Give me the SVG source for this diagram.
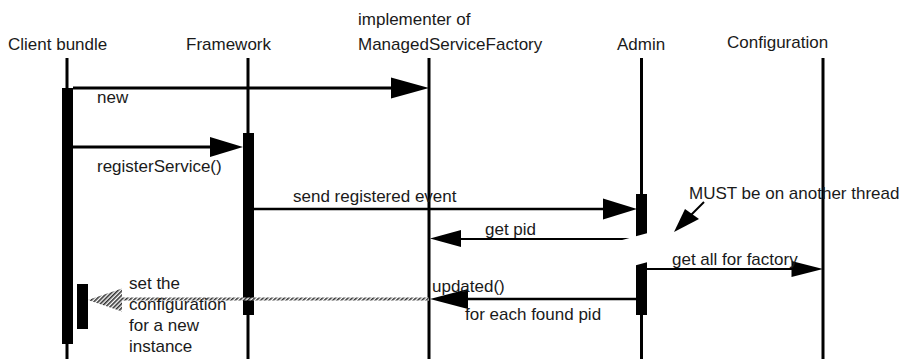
<svg xmlns="http://www.w3.org/2000/svg" width="908" height="359" viewBox="0 0 908 359">
<style>
text { font-family: "Liberation Sans", Arial, sans-serif; font-size: 17px; fill: #1a1a1a; }
.life { stroke: #000; stroke-width: 3; fill: none; }
.act { fill: #000; }
.msg { stroke: #000; fill: none; }
.head { fill: #000; }
</style>
<defs>
<pattern id="hatch" width="3" height="3" patternUnits="userSpaceOnUse" patternTransform="rotate(45)">
<rect width="3" height="3" fill="#fff"/>
<rect width="1.6" height="3" fill="#333"/>
</pattern>
</defs>
<g id="client-bundle">
<text x="8" y="50">Client bundle</text>
<line class="life" x1="67" y1="58" x2="67" y2="359"/>
<rect class="act" x="62" y="88" width="11" height="256"/>
<rect class="act" x="77" y="284" width="11" height="45"/>
</g>
<g id="framework">
<text x="186" y="50">Framework</text>
<line class="life" x1="248" y1="58" x2="248" y2="359"/>
<rect class="act" x="243" y="133" width="11" height="182"/>
</g>
<g id="managed-service-factory">
<text x="358" y="25">implementer of</text>
<text x="358" y="50">ManagedServiceFactory</text>
<line class="life" x1="429" y1="58" x2="429" y2="359"/>
</g>
<g id="admin">
<text x="617" y="50">Admin</text>
<line class="life" x1="641.5" y1="58" x2="641.5" y2="359"/>
</g>
<g id="configuration">
<text x="727" y="48">Configuration</text>
<line class="life" x1="823" y1="58" x2="823" y2="359"/>
</g>
<g id="connectors">
<line class="msg" stroke-width="3" x1="73" y1="88" x2="395" y2="88"/>
<polygon class="head" points="429,88 391,77.5 391,98.5"/>
<line class="msg" stroke-width="3" x1="73" y1="147" x2="212" y2="147"/>
<polygon class="head" points="243,147 210,137 210,157"/>
<line class="msg" stroke-width="2.5" x1="254" y1="209" x2="605" y2="209"/>
<polygon class="head" points="637,209 603,198.5 603,219.5"/>
<line class="msg" stroke-width="2" x1="632" y1="239" x2="458" y2="239"/>
<polygon class="head" points="430,238.5 461,230 461,247"/>
<line class="msg" stroke-width="2" x1="647" y1="269" x2="794" y2="269"/>
<polygon class="head" points="823,269 791.5,261 791.5,277"/>
<line class="msg" stroke-width="2.5" x1="636" y1="299" x2="465" y2="299"/>
<polygon class="head" points="430,299 468,289 468,309"/>
<rect x="121" y="297.5" width="308" height="3" fill="url(#hatch)"/>
<polygon points="88,300 122,288.5 122,311.5" fill="url(#hatch)"/>
<line class="msg" stroke-width="2" x1="704" y1="202" x2="691" y2="215"/>
<polygon class="head" points="674,232 685,209 699,219"/>
</g>
<g id="admin-activations">
<rect class="act" x="636" y="194" width="11" height="45"/>
<rect class="act" x="636" y="258" width="11" height="57"/>
<polygon points="600,246 670,227 670,256 600,275" fill="#fff"/>
</g>
<g id="labels">
<text x="97" y="103">new</text>
<text x="97" y="172">registerService()</text>
<text x="293" y="202">send registered event</text>
<text x="485" y="235">get pid</text>
<text x="672" y="265">get all for factory</text>
<text x="432" y="292">updated()</text>
<text x="465" y="320">for each found pid</text>
<text x="689" y="199">MUST be on another thread</text>
<text x="129" y="289">set the</text>
<text x="129" y="310">configuration</text>
<text x="129" y="331">for a new</text>
<text x="129" y="352">instance</text>
</g>
</svg>
